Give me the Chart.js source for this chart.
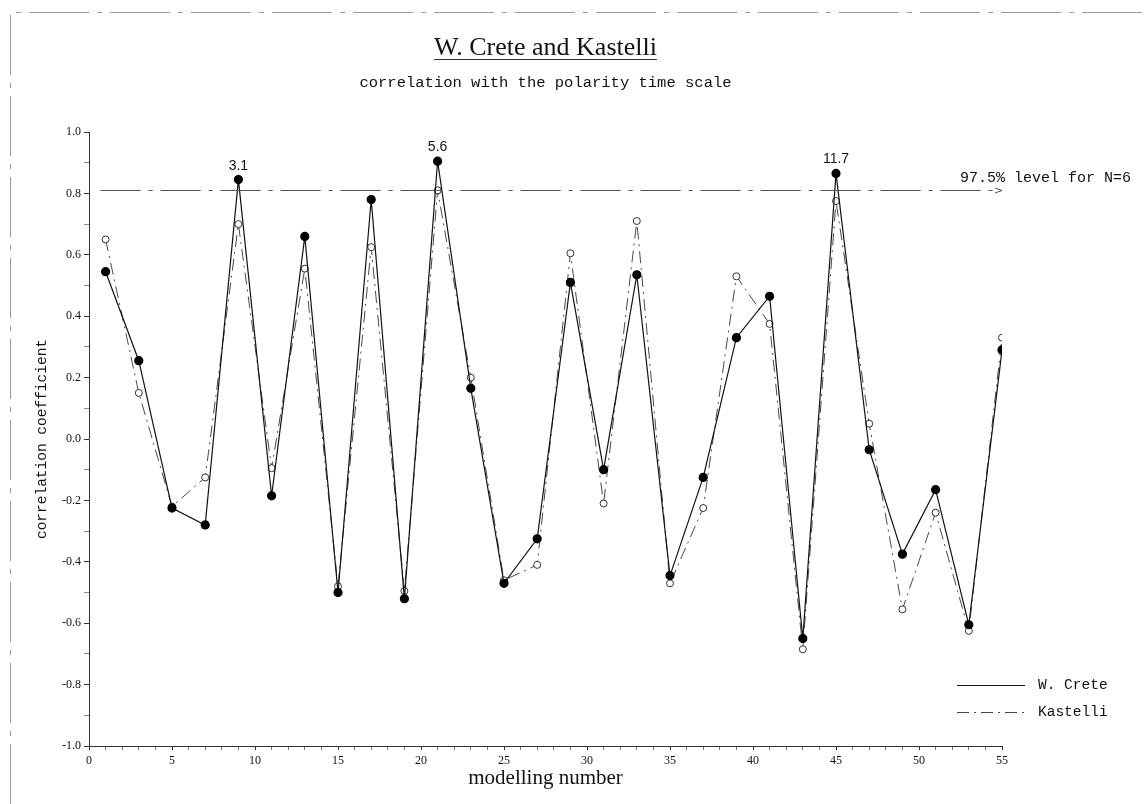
<!DOCTYPE html>
<html>
<head>
<meta charset="utf-8">
<title>W. Crete and Kastelli</title>
<script src="https://cdn.jsdelivr.net/npm/chart.js@4.4.1/dist/chart.umd.min.js"></script>
<style>
  html, body { margin: 0; padding: 0; background: #fff; }
  #wrap { width: 1148px; height: 804px; position: relative; }
</style>
</head>
<body>
<div id="wrap"><canvas id="corrChart"></canvas></div>
<script>
// modelling numbers (odd numbers only)
const modelNums = [1, 3, 5, 7, 9, 11, 13, 15, 17, 19, 21, 23, 25, 27,
                   29, 31, 33, 35, 37, 39, 41, 43, 45, 47, 49, 51, 53, 55];

// correlation coefficients
const creteValues = [0.545, 0.255, -0.225, -0.28, 0.845, -0.185, 0.66, -0.50, 0.78, -0.52,
                     0.905, 0.165, -0.47, -0.325, 0.51, -0.10, 0.535, -0.445, -0.125, 0.33,
                     0.465, -0.65, 0.865, -0.035, -0.375, -0.165, -0.605, 0.29];
const kastelliValues = [0.65, 0.15, -0.22, -0.125, 0.70, -0.095, 0.555, -0.48, 0.625, -0.495,
                        0.81, 0.20, -0.46, -0.41, 0.605, -0.21, 0.71, -0.47, -0.225, 0.53,
                        0.375, -0.685, 0.775, 0.05, -0.555, -0.24, -0.625, 0.33];

const xTickLabels = [0, 5, 10, 15, 20, 25, 30, 35, 40, 45, 50, 55];
const yTickLabels = [-1.0, -0.8, -0.6, -0.4, -0.2, 0.0, 0.2, 0.4, 0.6, 0.8, 1.0];

// peaks above the significance level and their labels
const peakNums = [9, 21, 45];
const peakTexts = ["3.1", "5.6", "11.7"];
const levelValue = 0.811;

const titleText = "W. Crete and Kastelli";
const subtitleText = "correlation with the polarity time scale";
const levelText = "97.5% level for N=6";

const toPoints = vals => modelNums.map((n, i) => ({ x: n, y: vals[i] }));

const decor = {
  id: "decor",
  beforeDraw(chart) {
    const ctx = chart.ctx;
    ctx.save();
    ctx.fillStyle = "#fff";
    ctx.fillRect(0, 0, chart.width, chart.height);
    // page edge from the scan
    ctx.strokeStyle = "#9a9a9a";
    ctx.lineWidth = 1;
    ctx.setLineDash([60, 8, 5, 8]);
    ctx.beginPath();
    ctx.moveTo(10.5, chart.height);
    ctx.lineTo(10.5, 12.5);
    ctx.lineTo(chart.width, 12.5);
    ctx.stroke();
    ctx.restore();
  },
  afterDraw(chart) {
    const { ctx, chartArea, scales } = chart;
    const xs = scales.x, ys = scales.y;
    const cx = (chartArea.left + chartArea.right) / 2;
    ctx.save();
    ctx.fillStyle = "#111";
    ctx.strokeStyle = "#333";

    // title, underlined
    ctx.font = '26px "Liberation Serif"';
    ctx.textAlign = "center";
    ctx.textBaseline = "alphabetic";
    ctx.fillText(titleText, cx, 55);
    const tw = ctx.measureText(titleText).width;
    ctx.lineWidth = 1;
    ctx.beginPath();
    ctx.moveTo(cx - tw / 2, 59.5);
    ctx.lineTo(cx + tw / 2, 59.5);
    ctx.stroke();

    ctx.font = '15.5px "Liberation Mono"';
    ctx.fillText(subtitleText, cx, 87);

    // 97.5% level line with arrow
    const ly = Math.round(ys.getPixelForValue(levelValue)) + 0.5;
    const lx0 = xs.getPixelForValue(0.7);
    const lx1 = xs.getPixelForValue(55);
    ctx.strokeStyle = "#555";
    ctx.setLineDash([40, 8, 4, 8]);
    ctx.beginPath();
    ctx.moveTo(lx0, ly);
    ctx.lineTo(lx1, ly);
    ctx.stroke();
    ctx.setLineDash([]);
    ctx.beginPath();
    ctx.moveTo(lx1 - 7, ly - 2.5);
    ctx.lineTo(lx1, ly);
    ctx.lineTo(lx1 - 7, ly + 2.5);
    ctx.stroke();
    ctx.font = '15px "Liberation Mono"';
    ctx.textAlign = "left";
    ctx.fillText(levelText, lx1 - 42, ly - 9);

    // peak labels
    ctx.font = '14px "Liberation Sans"';
    ctx.textAlign = "center";
    peakNums.forEach((n, i) => {
      const v = creteValues[modelNums.indexOf(n)];
      ctx.fillText(peakTexts[i], xs.getPixelForValue(n), ys.getPixelForValue(v) - 10);
    });

    // legend
    ctx.font = '14.5px "Liberation Mono"';
    ctx.textAlign = "left";
    ctx.textBaseline = "middle";
    chart.data.datasets.forEach((ds, i) => {
      const y = chartArea.bottom - 61 + i * 27 + 0.5;
      ctx.strokeStyle = ds.borderColor;
      ctx.lineWidth = ds.borderWidth;
      ctx.setLineDash(ds.borderDash || []);
      ctx.beginPath();
      ctx.moveTo(957, y);
      ctx.lineTo(1025, y);
      ctx.stroke();
      ctx.fillText(ds.label, 1038, y);
    });
    ctx.restore();
  }
};

new Chart(document.getElementById("corrChart"), {
  type: "line",
  data: {
    datasets: [
      {
        label: "W. Crete",
        data: toPoints(creteValues),
        borderColor: "#111",
        borderWidth: 1.2,
        pointRadius: 4,
        pointBackgroundColor: "#000",
        pointBorderColor: "#000",
        tension: 0
      },
      {
        label: "Kastelli",
        data: toPoints(kastelliValues),
        borderColor: "#4a4a4a",
        borderWidth: 1,
        borderDash: [12, 5, 2, 5],
        pointRadius: 3.5,
        pointBackgroundColor: "#fff",
        pointBorderColor: "#333",
        pointBorderWidth: 1,
        tension: 0
      }
    ]
  },
  options: {
    responsive: true,
    maintainAspectRatio: false,
    animation: false,
    layout: { padding: { left: 0, top: 132, right: 146, bottom: 0 } },
    plugins: {
      legend: { display: false },
      title: { display: false },
      tooltip: { enabled: false }
    },
    scales: {
      x: {
        type: "linear",
        min: 0,
        max: 55,
        afterFit: s => { s.height = 58; },
        border: { display: true, color: "#333", width: 1 },
        grid: {
          drawOnChartArea: false,
          tickLength: 4,
          color: c => (c.tick.value % 5 === 0 ? "#333" : "#777")
        },
        ticks: {
          stepSize: 1,
          autoSkip: false,
          maxRotation: 0,
          padding: 4,
          color: "#111",
          font: { family: "Liberation Serif", size: 12 },
          callback: v => (xTickLabels.includes(v) ? String(v) : "")
        },
        title: {
          display: true,
          text: "modelling number",
          color: "#111",
          font: { family: "Liberation Serif", size: 21 },
          padding: { top: 0, bottom: 13 }
        }
      },
      y: {
        min: -1,
        max: 1,
        afterFit: s => { s.width = 89; },
        border: { display: true, color: "#333", width: 1 },
        grid: {
          drawOnChartArea: false,
          tickLength: 5,
          color: c => (Math.round(c.tick.value * 10) % 2 === 0 ? "#333" : "#888")
        },
        ticks: {
          stepSize: 0.1,
          autoSkip: false,
          padding: 3,
          color: "#111",
          font: { family: "Liberation Serif", size: 12 },
          callback: v => {
            const r = Math.round(v * 10) / 10;
            return yTickLabels.includes(r) ? r.toFixed(1) : "";
          }
        },
        title: {
          display: true,
          text: "correlation coefficient",
          color: "#111",
          font: { family: "Liberation Mono", size: 14.5 },
          padding: { top: 33, bottom: 0 }
        }
      }
    }
  },
  plugins: [decor]
});
</script>
</body>
</html>
